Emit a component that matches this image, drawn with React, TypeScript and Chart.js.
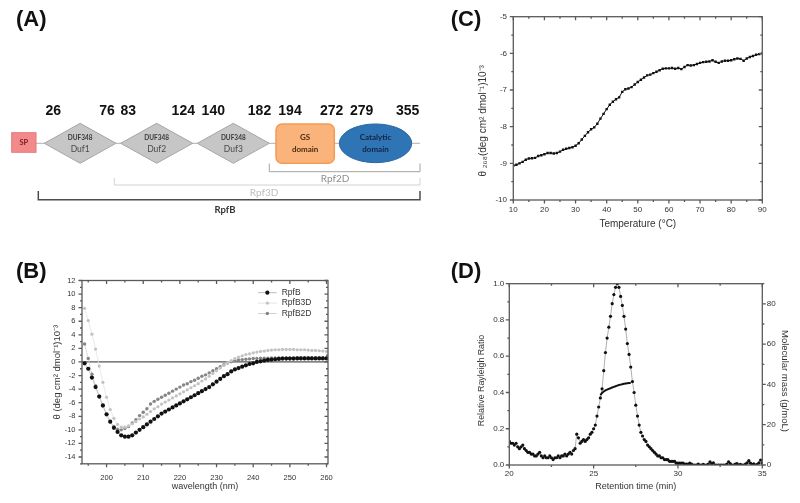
import React, { useEffect, useRef } from 'react';
import { Chart, registerables } from 'chart.js';

Chart.register(...registerables);

const FONT = '"Liberation Sans", Arial, sans-serif';
const DFONT = 'Lato, "Liberation Sans", Arial, sans-serif';

// ---------------- Panel A data ----------------
const domainNames = ['Duf1', 'Duf2', 'Duf3', 'GS domain', 'Catalytic domain'];
const domainFamily = ['DUF348', 'DUF348', 'DUF348', '', ''];
const domainStart = [26, 83, 140, 194, 279];
const domainEnd = [76, 124, 182, 272, 355];
const constructNames = ['Rpf2D', 'Rpf3D', 'RpfB'];
const signalName = 'SP';

// ---------------- Panel B data ----------------
const bWaveStart = 194;
const rpfB = [
  -0.2, -1.0, -2.3, -3.7, -5.1, -6.4, -7.7, -8.8, -9.7, -10.3,
  -10.8, -11.0, -11.0, -10.8, -10.4, -10.0, -9.6, -9.2, -8.8, -8.4,
  -8.0, -7.6, -7.3, -7.0, -6.7, -6.4, -6.1, -5.8, -5.5, -5.2,
  -4.9, -4.6, -4.3, -4.0, -3.7, -3.3, -2.9, -2.5, -2.1, -1.8,
  -1.4, -1.1, -0.9, -0.7, -0.5, -0.3, -0.2, 0.0, 0.1, 0.2,
  0.3, 0.35, 0.4, 0.45, 0.5, 0.5, 0.5, 0.5, 0.52, 0.52,
  0.52, 0.52, 0.52, 0.52, 0.52, 0.52, 0.52,
];
const rpfB3D = [
  7.9, 6.1, 4.1, 1.9, -0.6, -3.0, -5.2, -7.0, -8.3, -9.2,
  -9.6, -9.6, -9.4, -9.1, -8.8, -8.4, -8.1, -7.7, -7.3, -6.9,
  -6.6, -6.2, -5.9, -5.6, -5.3, -5.0, -4.7, -4.4, -4.1, -3.8,
  -3.5, -3.2, -2.8, -2.5, -2.1, -1.7, -1.3, -0.9, -0.5, -0.1,
  0.2, 0.5, 0.7, 0.9, 1.1, 1.2, 1.35, 1.45, 1.55, 1.6,
  1.7, 1.75, 1.8, 1.8, 1.85, 1.85, 1.85, 1.85, 1.8, 1.8,
  1.8, 1.75, 1.7, 1.7, 1.65, 1.6, 1.55,
];
const rpfB2D = [
  2.65, 0.5, -1.8, -3.5, -5.0, -6.5, -7.8, -8.8, -9.5, -9.9,
  -10.0, -9.8, -9.5, -9.0, -8.5, -7.9, -7.4, -6.9, -6.2, -5.8,
  -5.5, -5.2, -4.9, -4.6, -4.3, -4.0, -3.7, -3.4, -3.2, -2.9,
  -2.7, -2.4, -2.1, -1.9, -1.6, -1.3, -1.0, -0.7, -0.4, -0.15,
  0.05, 0.2, 0.3, 0.35, 0.4, 0.45, 0.5, 0.5, 0.55, 0.55,
  0.55, 0.6, 0.6, 0.6, 0.6, 0.6, 0.6, 0.6, 0.6, 0.6,
  0.6, 0.6, 0.6, 0.6, 0.6, 0.6, 0.6,
];
const bSeriesNames = ['RpfB', 'RpfB3D', 'RpfB2D'];
const bXTicks = [200, 210, 220, 230, 240, 250, 260];
const bYTicks = [-14, -12, -10, -8, -6, -4, -2, 0, 2, 4, 6, 8, 10, 12];

// ---------------- Panel C data ----------------
const cTempStart = 10;
const cTheta = [
  -9.06, -9.04, -9.0, -8.96, -8.9, -8.87, -8.86, -8.85, -8.8, -8.78,
  -8.75, -8.72, -8.72, -8.73, -8.72, -8.68, -8.63, -8.6, -8.58, -8.56,
  -8.52, -8.45, -8.35, -8.25, -8.15, -8.07, -8.02, -7.92, -7.78, -7.65,
  -7.52, -7.4, -7.32, -7.25, -7.2, -7.05, -6.98, -6.96, -6.92, -6.85,
  -6.78, -6.72, -6.66, -6.6, -6.58, -6.54, -6.5, -6.46, -6.42, -6.41,
  -6.41, -6.4, -6.42, -6.4, -6.43, -6.37, -6.32, -6.33, -6.32, -6.29,
  -6.26, -6.24, -6.23, -6.22, -6.19, -6.23, -6.26, -6.22, -6.2, -6.2,
  -6.19, -6.16, -6.14, -6.15, -6.2, -6.14, -6.1, -6.07, -6.04, -6.02,
  -6.0,
];
const cXTicks = [10, 20, 30, 40, 50, 60, 70, 80, 90];
const cYTicks = [-10, -9, -8, -7, -6, -5];

// ---------------- Panel D data ----------------
const dTimeStart = 20.0;
const dTimeStep = 0.1;
const dRayleigh = [
  0.13, 0.12, 0.12, 0.11, 0.12, 0.10, 0.09, 0.10, 0.11, 0.09,
  0.08, 0.07, 0.07, 0.06, 0.06, 0.05, 0.05, 0.06, 0.07, 0.05,
  0.04, 0.05, 0.04, 0.04, 0.05, 0.04, 0.03, 0.04, 0.04, 0.05,
  0.04, 0.05, 0.05, 0.06, 0.05, 0.06, 0.07, 0.06, 0.08, 0.09,
  0.17, 0.15, 0.12, 0.13, 0.14, 0.13, 0.14, 0.15, 0.17, 0.18,
  0.20, 0.22, 0.27, 0.32, 0.37, 0.42, 0.52, 0.62, 0.70, 0.76,
  0.82, 0.89, 0.94, 0.98, 1.00, 0.98, 0.93, 0.88, 0.82, 0.75,
  0.67, 0.61, 0.54, 0.46, 0.40, 0.33, 0.27, 0.22, 0.18, 0.16,
  0.14, 0.13, 0.11, 0.10, 0.09, 0.08, 0.07, 0.06, 0.05, 0.05,
  0.04, 0.04, 0.03, 0.03, 0.03, 0.02, 0.02, 0.02, 0.02, 0.01,
  0.01, 0.01, 0.01, 0.01, 0.005, 0.005, 0.005, 0.01, 0.005, 0.0,
  0.0, 0.0, 0.005, 0.0, 0.0, 0.003, 0.0, 0.0, 0.005, 0.018,
  0.008, 0.012, 0.0, 0.0, 0.0, 0.0, 0.0, 0.0, 0.0, 0.005,
  0.018, 0.008, 0.0, 0.0, 0.005, 0.008, 0.0, 0.004, 0.0, 0.0,
  0.005, 0.012, 0.024, 0.01, 0.003, 0.006, 0.0, 0.004, 0.012, 0.027,
  0.01,
];
const dMassTimes = [25.4, 25.5, 25.6, 25.7, 25.8, 25.9, 26.0, 26.1, 26.2, 26.3, 26.4, 26.5, 26.6, 26.7, 26.8, 26.9, 27.0, 27.1, 27.2];
const dMass = [34.7, 35.8, 36.5, 37.0, 37.4, 37.8, 38.1, 38.5, 38.8, 39.1, 39.4, 39.7, 39.9, 40.1, 40.3, 40.5, 40.6, 40.7, 40.7];
const dXTicks = [20, 25, 30, 35];
const dYTicks = [0, 0.2, 0.4, 0.6, 0.8, 1.0];
const dY2Ticks = [0, 20, 40, 60, 80];

// ---------------- plugins ----------------
const framePlugin = {
  id: 'frame',
  afterDraw(chart: any, _args: any, o: any) {
    if (!o || !o.enabled) return;
    const { ctx, chartArea: a } = chart;
    const sx = chart.scales.x;
    const sy = chart.scales.y;
    const sy2 = chart.scales.y2;
    ctx.save();
    ctx.strokeStyle = o.color;
    ctx.lineWidth = o.width;
    ctx.beginPath();
    const each = (scale: any, minor: number, major: number, fn: (p: number, len: number) => void) => {
      const s = Math.ceil((scale.min - 1e-9) / minor);
      const e = Math.floor((scale.max + 1e-9) / minor);
      for (let k = s; k <= e; k++) {
        const v = k * minor;
        const isMajor = Math.abs(v / major - Math.round(v / major)) < 1e-6;
        fn(scale.getPixelForValue(v), isMajor ? o.major : o.minor);
      }
    };
    each(sx, o.xMinor, o.xMajor, (p, L) => {
      ctx.moveTo(p, a.bottom); ctx.lineTo(p, a.bottom + L);
      ctx.moveTo(p, a.top); ctx.lineTo(p, a.top + L);
    });
    each(sy, o.yMinor, o.yMajor, (p, L) => {
      ctx.moveTo(a.left, p); ctx.lineTo(a.left - L, p);
      if (!sy2) { ctx.moveTo(a.right, p); ctx.lineTo(a.right - L, p); }
    });
    if (sy2) {
      each(sy2, o.y2Minor, o.y2Major, (p, L) => {
        ctx.moveTo(a.right, p); ctx.lineTo(a.right + L, p);
      });
    }
    ctx.stroke();
    ctx.strokeRect(a.left, a.top, a.right - a.left, a.bottom - a.top);
    ctx.restore();
  },
};

const zeroLinePlugin = {
  id: 'zeroLine',
  beforeDatasetsDraw(chart: any, _a: any, o: any) {
    if (!o || !o.enabled) return;
    const { ctx, chartArea: a } = chart;
    const y = chart.scales.y.getPixelForValue(0);
    ctx.save();
    ctx.strokeStyle = o.color;
    ctx.lineWidth = o.width;
    ctx.beginPath();
    ctx.moveTo(a.left, y);
    ctx.lineTo(a.right, y);
    ctx.stroke();
    ctx.restore();
  },
};

const insetLegendPlugin = {
  id: 'insetLegend',
  afterDraw(chart: any, _a: any, o: any) {
    if (!o || !o.enabled) return;
    const { ctx, chartArea: a } = chart;
    ctx.save();
    chart.data.datasets.forEach((ds: any, i: number) => {
      const y = a.top + o.top + i * o.rowGap;
      const x0 = a.right - o.lineStart;
      const x1 = a.right - o.lineEnd;
      ctx.strokeStyle = ds.borderColor;
      ctx.lineWidth = 1;
      ctx.beginPath();
      ctx.moveTo(x0, y);
      ctx.lineTo(x1, y);
      ctx.stroke();
      ctx.fillStyle = ds.pointBackgroundColor;
      ctx.beginPath();
      ctx.arc((x0 + x1) / 2, y, ds.pointRadius, 0, Math.PI * 2);
      ctx.fill();
      ctx.fillStyle = '#333';
      ctx.font = `${o.fontSize}px ${FONT}`;
      ctx.textAlign = 'left';
      ctx.textBaseline = 'middle';
      ctx.fillText(ds.label, a.right - o.textStart, y);
    });
    ctx.restore();
  },
};

// Layout of the schematic (pixels of panel A) — kept apart from the data
const A_NUM_Y = 110.7;
const A_AXIS_Y = 143.3;
const A_SHAPES = [
  { kind: 'diamond', x0: 44.3, x1: 116, s: 53.3, e: 107 },
  { kind: 'diamond', x0: 120.7, x1: 192.7, s: 128.3, e: 183.3 },
  { kind: 'diamond', x0: 197.3, x1: 269.3, s: 213.3, e: 259.5 },
  { kind: 'box', x0: 276, x1: 334.3, s: 290, e: 331.7 },
  { kind: 'ellipse', x0: 339.3, x1: 411.7, s: 361.7, e: 407.7 },
];
const A_BRACKETS = [
  { x0: 269.3, x1: 420, y: 171.7, top: 163.5, color: '#a3a3a3', lw: 1, lx: 335, ly: 178.5, lc: '#8e8e8e', bold: false, fs: 10 },
  { x0: 114.3, x1: 420, y: 185, top: 178, color: '#d2d2d2', lw: 1, lx: 264, ly: 192.5, lc: '#bcbcbc', bold: false, fs: 10 },
  { x0: 38.3, x1: 420, y: 199.7, top: 191, color: '#4d4d4d', lw: 1.5, lx: 225, ly: 209.5, lc: '#333', bold: true, fs: 9.5 },
];

const diagramPlugin = {
  id: 'diagram',
  afterDraw(chart: any) {
    const { ctx } = chart;
    const X = (v: number) => chart.scales.x.getPixelForValue(v);
    const Y = (v: number) => chart.scales.y.getPixelForValue(v);
    ctx.save();
    ctx.textAlign = 'center';
    ctx.textBaseline = 'middle';

    ctx.strokeStyle = '#b0b0b0';
    ctx.lineWidth = 1;
    ctx.beginPath();
    ctx.moveTo(X(36), Y(A_AXIS_Y));
    ctx.lineTo(X(420), Y(A_AXIS_Y));
    ctx.stroke();

    ctx.fillStyle = '#f28a8c';
    ctx.strokeStyle = '#e4787a';
    ctx.lineWidth = 1;
    ctx.fillRect(X(11.7), Y(132.7), X(36) - X(11.7), Y(152.3) - Y(132.7));
    ctx.strokeRect(X(11.7), Y(132.7), X(36) - X(11.7), Y(152.3) - Y(132.7));
    ctx.fillStyle = '#7b1c1c';
    ctx.font = `bold 7.5px ${DFONT}`;
    ctx.fillText(signalName, X(23.8), Y(142.5));

    A_SHAPES.forEach((sh, i) => {
      const cx = (sh.x0 + sh.x1) / 2;
      ctx.lineWidth = 1;
      ctx.beginPath();
      if (sh.kind === 'diamond') {
        ctx.moveTo(X(sh.x0), Y(A_AXIS_Y));
        ctx.lineTo(X(cx), Y(A_AXIS_Y - 20));
        ctx.lineTo(X(sh.x1), Y(A_AXIS_Y));
        ctx.lineTo(X(cx), Y(A_AXIS_Y + 20));
        ctx.closePath();
        ctx.fillStyle = '#c6c6c6';
        ctx.strokeStyle = '#a6a6a6';
        ctx.fill();
        ctx.stroke();
        ctx.fillStyle = '#3a3a3a';
        ctx.font = `bold 6.5px ${DFONT}`;
        ctx.fillText(domainFamily[i], X(cx), Y(137.7));
        ctx.fillStyle = '#4a4a4a';
        ctx.font = `8.5px ${DFONT}`;
        ctx.fillText(domainNames[i], X(cx), Y(149.2));
      } else if (sh.kind === 'box') {
        ctx.roundRect(X(sh.x0), Y(124), X(sh.x1) - X(sh.x0), Y(163.3) - Y(124), 6);
        ctx.fillStyle = '#fbb37c';
        ctx.strokeStyle = '#f39b52';
        ctx.lineWidth = 1.5;
        ctx.fill();
        ctx.stroke();
        const [w1, w2] = domainNames[i].split(' ');
        ctx.fillStyle = '#4a2c10';
        ctx.font = `bold 8px ${DFONT}`;
        ctx.fillText(w1, X(cx), Y(137.7));
        ctx.fillText(w2, X(cx), Y(149.7));
      } else {
        ctx.ellipse(X(cx), Y(A_AXIS_Y), (X(sh.x1) - X(sh.x0)) / 2, (Y(162.7) - Y(124)) / 2, 0, 0, Math.PI * 2);
        ctx.fillStyle = '#2f74b5';
        ctx.strokeStyle = '#2a66a0';
        ctx.fill();
        ctx.stroke();
        const [w1, w2] = domainNames[i].split(' ');
        ctx.fillStyle = '#13243f';
        ctx.font = `bold 8px ${DFONT}`;
        ctx.fillText(w1, X(cx), Y(137.7));
        ctx.fillText(w2, X(cx), Y(149.7));
      }
      ctx.fillStyle = '#111';
      ctx.font = `bold 14px ${FONT}`;
      ctx.fillText(String(domainStart[i]), X(sh.s), Y(A_NUM_Y));
      ctx.fillText(String(domainEnd[i]), X(sh.e), Y(A_NUM_Y));
    });

    A_BRACKETS.forEach((b, i) => {
      ctx.strokeStyle = b.color;
      ctx.lineWidth = b.lw;
      ctx.beginPath();
      ctx.moveTo(X(b.x0), Y(b.top));
      ctx.lineTo(X(b.x0), Y(b.y));
      ctx.lineTo(X(b.x1), Y(b.y));
      ctx.lineTo(X(b.x1), Y(b.top));
      ctx.stroke();
      ctx.fillStyle = b.lc;
      ctx.font = `${b.bold ? 'bold ' : ''}${b.fs}px ${DFONT}`;
      ctx.fillText(constructNames[i], X(b.lx), Y(b.ly));
    });
    ctx.restore();
  },
};

// ---------------- configs ----------------
const tickFont = (size: number) => ({ family: FONT, size });
const noGrid = { display: false, drawTicks: false, tickLength: 0 };

function configA(): any {
  return {
    type: 'scatter',
    data: { datasets: [] },
    options: {
      responsive: false,
      animation: false,
      layout: { padding: 0 },
      plugins: { legend: { display: false }, tooltip: { enabled: false } },
      scales: {
        x: { type: 'linear', display: false, min: 0, max: 430 },
        y: { type: 'linear', display: false, min: 0, max: 230, reverse: true },
      },
    },
    plugins: [diagramPlugin],
  };
}

function configB(): any {
  const mk = (label: string, vals: number[], pc: string, lc: string, r: number) => ({
    label,
    data: vals.map((v, i) => ({ x: bWaveStart + i, y: v })),
    showLine: true,
    borderColor: lc,
    borderWidth: 0.8,
    pointRadius: r,
    pointBackgroundColor: pc,
    pointBorderWidth: 0,
  });
  return {
    type: 'scatter',
    data: {
      datasets: [
        mk(bSeriesNames[0], rpfB, '#111111', '#bdbdbd', 2.1),
        mk(bSeriesNames[1], rpfB3D, '#c2c2c2', '#e3e3e3', 1.6),
        mk(bSeriesNames[2], rpfB2D, '#858585', '#d2d2d2', 1.7),
      ],
    },
    options: {
      responsive: false,
      animation: false,
      layout: { padding: { left: 40, top: 50.5, right: 102, bottom: 0 } },
      plugins: {
        legend: { display: false },
        tooltip: { enabled: false },
        frame: { enabled: true, color: '#5a5a5a', width: 1.3, major: 3.5, minor: 2, xMinor: 5, xMajor: 10, yMinor: 1, yMajor: 2 },
        zeroLine: { enabled: true, color: '#555', width: 1.3 },
        insetLegend: { enabled: true, top: 12.2, rowGap: 10.4, lineStart: 70, lineEnd: 51.3, textStart: 46.3, fontSize: 8.5 },
      },
      scales: {
        x: {
          type: 'linear', min: 193.3, max: 260.4,
          grid: noGrid, border: { display: false },
          ticks: { font: tickFont(7.5), color: '#333', padding: 10, maxRotation: 0 },
          afterBuildTicks: (s: any) => { s.ticks = bXTicks.map((v) => ({ value: v })); },
          afterFit: (s: any) => { s.height = 39.2; },
          title: { display: true, text: 'wavelength (nm)', font: { family: FONT, size: 9 }, color: '#333', padding: { top: 0, bottom: 10.9 } },
        },
        y: {
          type: 'linear', min: -15, max: 12,
          grid: noGrid, border: { display: false },
          ticks: { font: tickFont(7.5), color: '#333', padding: 6.5 },
          afterBuildTicks: (s: any) => { s.ticks = bYTicks.map((v) => ({ value: v })); },
          afterFit: (s: any) => { s.width = 42; },
          title: { display: true, text: 'θ (deg cm² dmol⁻¹)10⁻³', font: { family: FONT, size: 9.5 }, color: '#333', padding: { top: 12, bottom: 0 } },
        },
      },
    },
    plugins: [framePlugin, zeroLinePlugin, insetLegendPlugin],
  };
}

function configC(): any {
  return {
    type: 'scatter',
    data: {
      datasets: [
        {
          label: 'θ208',
          data: cTheta.map((v, i) => ({ x: cTempStart + i, y: v })),
          showLine: true,
          borderColor: '#111',
          borderWidth: 1,
          pointStyle: 'rect',
          pointRadius: 1.7,
          pointBackgroundColor: '#111',
          pointBorderWidth: 0,
        },
      ],
    },
    options: {
      responsive: false,
      animation: false,
      layout: { padding: { left: 40, top: 16.7, right: 37.7, bottom: 0 } },
      plugins: {
        legend: { display: false },
        tooltip: { enabled: false },
        frame: { enabled: true, color: '#5a5a5a', width: 1.3, major: 3.5, minor: 2, xMinor: 5, xMajor: 10, yMinor: 0.5, yMajor: 1 },
      },
      scales: {
        x: {
          type: 'linear', min: 10, max: 90,
          grid: noGrid, border: { display: false },
          ticks: { font: tickFont(8), color: '#333', padding: 4.5, maxRotation: 0 },
          afterBuildTicks: (s: any) => { s.ticks = cXTicks.map((v) => ({ value: v })); },
          afterFit: (s: any) => { s.height = 50; },
          title: { display: true, text: 'Temperature (°C)', font: { family: FONT, size: 10 }, color: '#333', padding: { top: 0, bottom: 19.7 } },
        },
        y: {
          type: 'linear', min: -10, max: -5,
          grid: noGrid, border: { display: false },
          ticks: { font: tickFont(8), color: '#333', padding: 6.3 },
          afterBuildTicks: (s: any) => { s.ticks = cYTicks.map((v) => ({ value: v })); },
          afterFit: (s: any) => { s.width = 43.3; },
          title: { display: true, text: 'θ ₂₀₈(deg cm² dmol⁻¹)10⁻³' + ' '.repeat(9), font: { family: FONT, size: 10 }, color: '#333', padding: { top: 7.3, bottom: 0 } },
        },
      },
    },
    plugins: [framePlugin],
  };
}

function configD(): any {
  return {
    type: 'scatter',
    data: {
      datasets: [
        {
          label: 'Molecular mass',
          data: dMass.map((v, i) => ({ x: dMassTimes[i], y: v })),
          yAxisID: 'y2',
          showLine: true,
          borderColor: '#111',
          borderWidth: 2,
          pointRadius: 0,
        },
        {
          label: 'Relative Rayleigh Ratio',
          data: dRayleigh.map((v, i) => ({ x: dTimeStart + i * dTimeStep, y: v })),
          yAxisID: 'y',
          showLine: true,
          borderColor: '#9a9a9a',
          borderWidth: 0.8,
          pointRadius: 1.6,
          pointBackgroundColor: '#111',
          pointBorderWidth: 0,
        },
      ],
    },
    options: {
      responsive: false,
      animation: false,
      layout: { padding: { left: 40, top: 33.7, right: 0, bottom: 0 } },
      plugins: {
        legend: { display: false },
        tooltip: { enabled: false },
        frame: { enabled: true, color: '#5a5a5a', width: 1.3, major: 3.5, minor: 2, xMinor: 2.5, xMajor: 5, yMinor: 0.1, yMajor: 0.2, y2Minor: 10, y2Major: 20 },
      },
      scales: {
        x: {
          type: 'linear', min: 20, max: 35,
          grid: noGrid, border: { display: false },
          ticks: { font: tickFont(8), color: '#333', padding: 4.2, maxRotation: 0 },
          afterBuildTicks: (s: any) => { s.ticks = dXTicks.map((v) => ({ value: v })); },
          afterFit: (s: any) => { s.height = 38; },
          title: { display: true, text: 'Retention time (min)', font: { family: FONT, size: 9 }, color: '#333', padding: { top: 0, bottom: 10.9 } },
        },
        y: {
          type: 'linear', position: 'left', min: 0, max: 1,
          grid: noGrid, border: { display: false },
          ticks: { font: tickFont(8), color: '#333', padding: 5, callback: (v: any) => Number(v).toFixed(1) },
          afterBuildTicks: (s: any) => { s.ticks = dYTicks.map((v) => ({ value: v })); },
          afterFit: (s: any) => { s.width = 39.3; },
          title: { display: true, text: 'Relative Rayleigh Ratio' + ' '.repeat(5), font: { family: FONT, size: 8.8 }, color: '#333', padding: { top: 6.4, bottom: 0 } },
        },
        y2: {
          type: 'linear', position: 'right', min: 0, max: 90,
          grid: noGrid, border: { display: false },
          ticks: { font: tickFont(8), color: '#333', padding: 4.4 },
          afterBuildTicks: (s: any) => { s.ticks = dY2Ticks.map((v) => ({ value: v })); },
          afterFit: (s: any) => { s.width = 37.7; },
          title: { display: true, text: ' '.repeat(5) + 'Molecular mass (g/moL)', font: { family: FONT, size: 9.5 }, color: '#333', padding: { top: 9.3, bottom: 0 } },
        },
      },
    },
    plugins: [framePlugin],
  };
}

function ChartBox(props: { left: number; top: number; width: number; height: number; make: () => any }) {
  const ref = useRef<HTMLCanvasElement | null>(null);
  useEffect(() => {
    if (!ref.current) return;
    const chart = new Chart(ref.current, props.make());
    return () => chart.destroy();
  }, []);
  return (
    <canvas
      ref={ref}
      width={props.width}
      height={props.height}
      style={{ position: 'absolute', left: props.left, top: props.top, width: props.width, height: props.height }}
    />
  );
}

const labelStyle = (left: number, top: number): React.CSSProperties => ({
  position: 'absolute',
  left,
  top,
  font: `bold 22px ${FONT}`,
  lineHeight: '22px',
  color: '#111',
  whiteSpace: 'nowrap',
});

export default function App() {
  return (
    <div style={{ position: 'fixed', left: 0, top: 0, width: 800, height: 503, background: '#fff', overflow: 'hidden' }}>
      <ChartBox left={0} top={0} width={430} height={230} make={configA} />
      <ChartBox left={0} top={230} width={430} height={273} make={configB} />
      <ChartBox left={430} top={0} width={370} height={250} make={configC} />
      <ChartBox left={430} top={250} width={370} height={253} make={configD} />
      <div style={labelStyle(16, 8.4)}>(A)</div>
      <div style={labelStyle(16, 260.1)}>(B)</div>
      <div style={labelStyle(450.7, 8.4)}>(C)</div>
      <div style={labelStyle(450.7, 260.1)}>(D)</div>
    </div>
  );
}
